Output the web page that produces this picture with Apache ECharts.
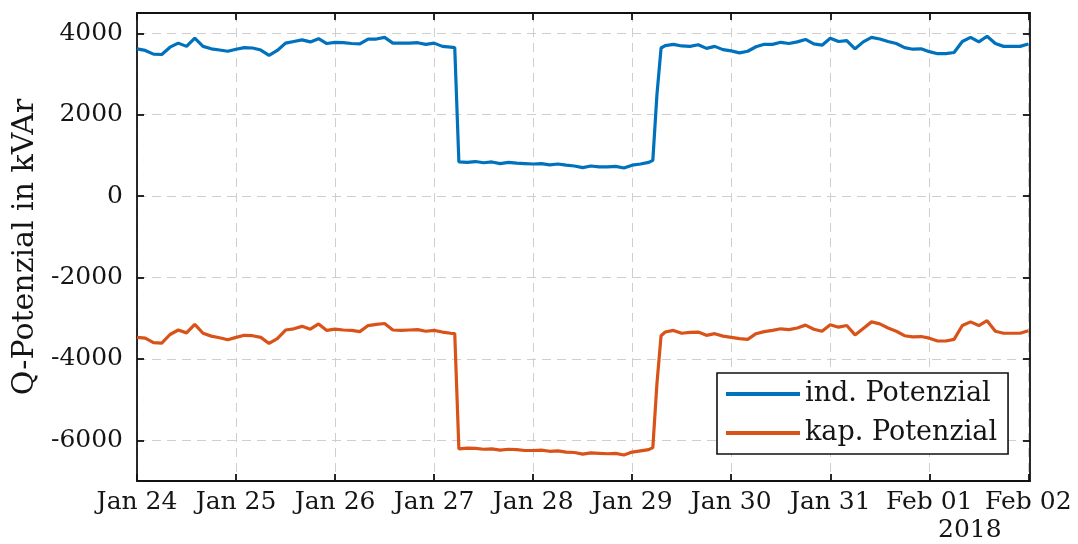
<!DOCTYPE html>
<html>
<head>
<meta charset="utf-8">
<script src="https://cdn.jsdelivr.net/npm/echarts@6/dist/echarts.min.js"></script>
<style>
  html, body { margin: 0; padding: 0; background: #fff; }
  #chart { width: 1078px; height: 544px; }
</style>
</head>
<body>
<div id="chart"></div>
<script>
// Hours since Jan 24 00:00 (2-hour steps, with extra points around the switching events)
const hours = [];
for (let h = 0; h <= 216; h += 2) {
  hours.push(h);
  if (h === 76 || h === 124 || h === 126) hours.push(h + 1);
}

// Inductive reactive power potential (kVAr), one row per day
const indPotenzial = [
  3620, 3580, 3490, 3480, 3660, 3760, 3680, 3880, 3680, 3620, 3590, 3560,       // Jan 24
  3610, 3650, 3640, 3590, 3460, 3580, 3760, 3800, 3840, 3790, 3870, 3750,       // Jan 25
  3780, 3770, 3750, 3740, 3860, 3860, 3900, 3760, 3760, 3760, 3770, 3730,       // Jan 26
  3760, 3680, 3660, 3650, 840, 830, 850, 820, 840, 800, 830, 810, 800,          // Jan 27
  790, 800, 770, 790, 760, 740, 700, 740, 720, 720, 730, 690,                   // Jan 28
  760, 790, 830, 880, 2500, 3640, 3700, 3730, 3690, 3680, 3720, 3630, 3680, 3600, // Jan 29
  3570, 3520, 3560, 3670, 3730, 3730, 3780, 3750, 3790, 3850, 3740, 3710,       // Jan 30
  3880, 3800, 3820, 3620, 3790, 3900, 3860, 3800, 3750, 3650, 3610, 3620,       // Jan 31
  3550, 3500, 3500, 3530, 3800, 3900, 3790, 3930, 3750, 3680, 3680, 3680,       // Feb 01
  3740                                                                          // Feb 02
];

// Capacitive reactive power potential (kVAr)
const kapPotenzial = [
  -3470, -3490, -3600, -3610, -3400, -3290, -3360, -3150, -3370, -3440, -3480, -3530,
  -3470, -3420, -3430, -3470, -3620, -3500, -3290, -3260, -3200, -3270, -3140, -3300,
  -3270, -3290, -3300, -3330, -3180, -3150, -3130, -3290, -3300, -3290, -3280, -3320,
  -3300, -3340, -3370, -3380, -6210, -6190, -6200, -6220, -6210, -6240, -6220, -6230, -6250,
  -6250, -6240, -6270, -6260, -6290, -6300, -6340, -6310, -6320, -6330, -6320, -6360,
  -6290, -6260, -6230, -6180, -4600, -3430, -3340, -3300, -3370, -3350, -3340, -3420, -3380, -3440,
  -3470, -3500, -3520, -3380, -3330, -3300, -3260, -3280, -3240, -3170, -3270, -3320,
  -3160, -3220, -3180, -3410, -3250, -3090, -3140, -3240, -3320, -3430, -3460, -3450,
  -3490, -3560, -3560, -3520, -3180, -3090, -3180, -3060, -3320, -3370, -3370, -3370,
  -3310
];

const seriesNames = ['ind. Potenzial', 'kap. Potenzial'];
const dayLabels = ['Jan 24', 'Jan 25', 'Jan 26', 'Jan 27', 'Jan 28', 'Jan 29',
                   'Jan 30', 'Jan 31', 'Feb 01', 'Feb 02'];
const xTicks = [0, 24, 48, 72, 96, 120, 144, 168, 192, 216];
const yTicks = [-6000, -4000, -2000, 0, 2000, 4000];
const yearLabel = '2018';
const yTitle = 'Q-Potenzial in kVAr';

const FONT = 'DejaVu Serif';
const TEXT = '#151515';
const COLORS = ['#0072BD', '#D95319'];
const GRID_LINE = { show: true, lineStyle: { color: '#cfcfcf', width: 1, type: [9, 6] } };
const AXIS_LINE = { show: true, onZero: false, lineStyle: { color: '#111', width: 1.8 } };
const TICK = (vals) => ({ show: true, inside: true, length: 7, customValues: vals,
                          lineStyle: { color: '#111', width: 1.8 } });

const pair = (ys) => hours.map((h, i) => [h, ys[i]]);

const chart = echarts.init(document.getElementById('chart'), null, { renderer: 'canvas' });
chart.setOption({
  animation: false,
  backgroundColor: '#fff',
  textStyle: { fontFamily: FONT, color: TEXT },
  grid: { left: 137, right: 48, top: 13, bottom: 63, containLabel: false },
  xAxis: [
    {
      type: 'value', min: 0, max: 216.4, position: 'bottom',
      axisLine: AXIS_LINE, axisTick: TICK(xTicks),
      axisLabel: {
        customValues: xTicks, margin: 9, fontFamily: FONT, fontSize: 25, color: TEXT,
        formatter: (v) => dayLabels[Math.round(v / 24)] || ''
      },
      splitLine: GRID_LINE
    },
    {
      type: 'value', min: 0, max: 216.4, position: 'top',
      axisLine: AXIS_LINE, axisTick: TICK(xTicks),
      axisLabel: { show: false }, splitLine: { show: false }
    }
  ],
  yAxis: [
    {
      type: 'value', min: -7000, max: 4500, position: 'left',
      axisLine: AXIS_LINE, axisTick: TICK(yTicks),
      axisLabel: {
        customValues: yTicks, margin: 14, fontFamily: FONT, fontSize: 25, color: TEXT,
        formatter: (v) => String(v)
      },
      splitLine: GRID_LINE,
      name: yTitle, nameLocation: 'middle', nameGap: 82,
      nameTextStyle: { fontFamily: FONT, fontSize: 30, color: TEXT }
    },
    {
      type: 'value', min: -7000, max: 4500, position: 'right',
      axisLine: AXIS_LINE, axisTick: TICK(yTicks),
      axisLabel: { show: false }, splitLine: { show: false }
    }
  ],
  legend: {
    orient: 'vertical', left: 717, top: 373,
    data: seriesNames,
    icon: 'rect',
    itemWidth: 74, itemHeight: 4, itemGap: 9,
    padding: [6, 11, 6, 9],
    backgroundColor: '#fff', borderColor: '#111', borderWidth: 1.6, borderRadius: 0,
    textStyle: { fontFamily: FONT, fontSize: 27, color: TEXT, lineHeight: 30 }
  },
  series: [
    {
      name: seriesNames[0], type: 'line', data: pair(indPotenzial),
      symbol: 'none', color: COLORS[0],
      lineStyle: { width: 3.2, color: COLORS[0] }, z: 3
    },
    {
      name: seriesNames[1], type: 'line', data: pair(kapPotenzial),
      symbol: 'none', color: COLORS[1],
      lineStyle: { width: 3.2, color: COLORS[1] }, z: 3
    }
  ],
  graphic: [
    {
      type: 'text', left: 938, top: 518,
      style: { text: yearLabel, font: '25px "DejaVu Serif"', fill: TEXT }
    }
  ]
});
</script>
</body>
</html>
